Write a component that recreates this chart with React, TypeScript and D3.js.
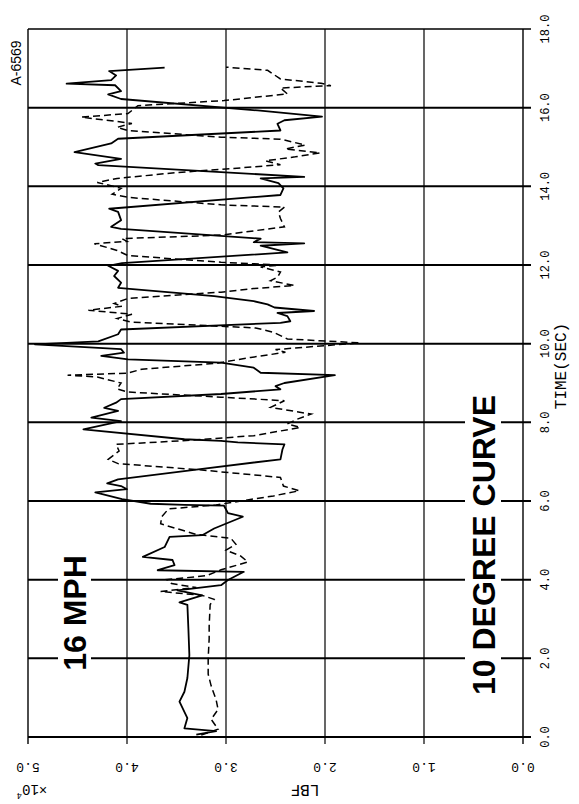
import React from 'react';
import * as d3 from 'd3';

// time (sec) , force (LBF x10^4)
const solidSeries: [number, number][] = [
  [0.06, 3.30], [0.15, 3.10], [0.22, 3.42], [0.48, 3.39], [0.9, 3.47], [1.15, 3.42], [1.5, 3.39],
  [2.08, 3.37], [2.76, 3.38], [3.36, 3.39], [3.42, 3.47], [3.6, 3.24], [3.73, 3.49], [3.86, 3.05],
  [3.99, 2.98], [4.2, 2.82], [4.24, 3.69], [4.37, 3.52], [4.5, 3.54], [4.58, 3.84], [4.83, 3.62],
  [5.09, 3.57], [5.13, 3.24], [5.3, 3.12], [5.6, 2.83], [5.69, 2.98], [5.88, 3.02], [5.9, 3.42],
  [5.93, 3.76], [6.05, 4.05], [6.22, 4.32], [6.3, 4.0], [6.38, 4.06], [6.45, 4.2], [6.55, 4.09],
  [6.8, 3.3], [7.06, 2.45], [7.31, 2.43], [7.44, 2.41], [7.49, 2.88], [7.53, 3.05], [7.57, 3.42],
  [7.82, 4.44], [8.03, 4.06], [8.12, 4.36], [8.29, 4.09], [8.37, 4.23], [8.5, 4.11], [8.59, 4.06],
  [8.72, 3.05], [8.84, 2.45], [8.92, 2.5], [9.0, 2.41], [9.2, 1.9], [9.26, 2.65], [9.39, 2.72],
  [9.52, 3.05], [9.6, 3.99], [9.69, 4.26], [9.77, 4.03], [9.86, 4.06], [9.98, 4.93], [10.06, 4.29],
  [10.24, 4.09], [10.36, 4.06], [10.53, 2.45], [10.57, 2.35], [10.7, 2.38], [10.78, 2.48],
  [10.83, 2.11], [10.92, 2.51], [11.0, 2.58], [11.08, 2.72], [11.21, 3.12], [11.42, 4.09],
  [11.55, 4.06], [11.72, 4.13], [11.85, 4.09], [11.98, 4.19], [12.05, 4.05], [12.32, 2.38],
  [12.49, 2.65], [12.55, 2.21], [12.58, 2.72], [12.67, 2.65], [12.92, 4.06], [12.97, 4.16],
  [13.14, 4.06], [13.35, 4.09], [13.43, 4.18], [13.78, 2.45], [13.95, 2.42], [14.08, 2.47],
  [14.2, 2.65], [14.24, 2.21], [14.54, 4.29], [14.58, 4.32], [14.7, 4.06], [14.87, 4.53],
  [15.09, 4.16], [15.21, 4.09], [15.42, 2.45], [15.59, 2.48], [15.68, 2.41], [15.77, 2.03],
  [15.93, 2.68], [16.22, 4.06], [16.34, 4.19], [16.42, 4.06], [16.57, 4.12], [16.61, 4.61],
  [16.7, 4.16], [16.82, 4.11], [16.93, 4.18], [17.02, 3.62],
];

const dashedSeries: [number, number][] = [
  [0.05, 3.25], [0.2, 3.08], [0.45, 3.15], [0.7, 3.08], [0.95, 3.1], [1.3, 3.15], [1.6, 3.18],
  [2.0, 3.18], [2.5, 3.17], [2.82, 3.17], [3.37, 3.16], [3.5, 3.12], [3.6, 3.24], [3.7, 3.66],
  [3.8, 3.3], [3.9, 3.55], [4.0, 3.6], [4.1, 3.2], [4.25, 3.05], [4.45, 2.78], [4.6, 2.85],
  [4.75, 3.0], [4.9, 2.9], [5.05, 2.95], [5.15, 3.3], [5.3, 3.5], [5.42, 3.66], [5.6, 3.65],
  [5.8, 3.58], [5.9, 3.1], [6.0, 2.85], [6.13, 2.52], [6.26, 2.26], [6.38, 2.42], [6.6, 2.45],
  [6.8, 3.3], [6.95, 4.09], [7.06, 4.19], [7.27, 4.08], [7.44, 4.11], [7.53, 3.45], [7.66, 2.72],
  [7.87, 2.25], [7.96, 2.38], [8.08, 2.28], [8.21, 2.14], [8.38, 2.55], [8.55, 2.41], [8.64, 3.05],
  [8.77, 3.99], [8.85, 4.1], [9.0, 4.06], [9.15, 4.3], [9.2, 4.6], [9.25, 4.0], [9.35, 3.85],
  [9.5, 3.1], [9.65, 2.75], [9.78, 2.4], [9.85, 2.5], [9.95, 2.0], [10.02, 1.65], [10.12, 2.38],
  [10.29, 2.52], [10.4, 2.7], [10.55, 3.96], [10.64, 4.1], [10.75, 3.95], [10.85, 4.39],
  [10.95, 4.05], [11.02, 4.13], [11.15, 3.99], [11.31, 3.05], [11.4, 2.72], [11.48, 2.31],
  [11.6, 2.55], [11.69, 2.48], [11.82, 2.45], [11.95, 2.65], [12.0, 2.45], [12.07, 3.05],
  [12.24, 3.99], [12.37, 4.1], [12.54, 4.33], [12.6, 4.0], [12.67, 4.05], [12.76, 3.05],
  [12.97, 2.41], [13.18, 2.45], [13.35, 2.47], [13.47, 2.41], [13.53, 3.05], [13.72, 3.99],
  [13.8, 4.15], [13.95, 4.06], [14.1, 4.3], [14.2, 4.1], [14.35, 3.5], [14.45, 2.95], [14.55, 2.45],
  [14.65, 2.6], [14.75, 2.3], [14.85, 2.05], [14.95, 2.4], [15.05, 2.2], [15.2, 2.45], [15.25, 3.05],
  [15.42, 3.99], [15.5, 4.1], [15.6, 3.95], [15.76, 4.46], [15.85, 3.99], [16.05, 3.89],
  [16.18, 3.02], [16.35, 2.38], [16.5, 2.45], [16.56, 1.94], [16.62, 2.04], [16.73, 2.45],
  [16.95, 2.58], [17.03, 3.0],
];

const timeTicks = [0, 2, 4, 6, 8, 10, 12, 14, 16, 18];
const timeTickLabels = ['0.0', '2.0', '4.0', '6.0', '8.0', '10.0', '12.0', '14.0', '16.0', '18.0'];
const lbfTicks = [0, 1, 2, 3, 4, 5];
const lbfTickLabels = ['0.0', '1.0', '2.0', '3.0', '4.0', '5.0'];

const W = 579;
const H = 804;
const PLOT = { left: 28, right: 523, top: 29, bottom: 737 };
const MONO = "'Liberation Mono', 'DejaVu Sans Mono', monospace";
const BOLD = "'Liberation Sans', Arial, sans-serif";

export default function App() {
  const y = d3.scaleLinear().domain([0, 18]).range([PLOT.bottom, PLOT.top]);
  const x = d3.scaleLinear().domain([0, 5]).range([PLOT.right, PLOT.left]);
  const line = d3
    .line<[number, number]>()
    .x((d) => x(d[1]))
    .y((d) => y(d[0]));

  return (
    <svg
      width={W}
      height={H}
      style={{ position: 'absolute', left: 0, top: 0, background: '#fff' }}
    >
      <rect x={0} y={0} width={W} height={H} fill="#fff" />
      {/* vertical grid (LBF) */}
      {lbfTicks.map((v) => (
        <line
          key={'v' + v}
          x1={x(v)}
          x2={x(v)}
          y1={PLOT.top}
          y2={PLOT.bottom + 7}
          stroke="#000"
          strokeWidth={v === 0 || v === 5 ? 1.4 : 1.2}
        />
      ))}
      {/* horizontal grid (time) */}
      {timeTicks.map((t) => (
        <line
          key={'h' + t}
          x1={PLOT.left}
          x2={PLOT.right + 8}
          y1={y(t)}
          y2={y(t)}
          stroke="#000"
          strokeWidth={t === 18 ? 1.4 : 2}
        />
      ))}
      {/* white boxes behind big labels */}
      <rect x={58} y={548} width={33} height={132} fill="#fff" />
      <rect x={465} y={393} width={36} height={306} fill="#fff" />

      {/* data */}
      <path d={line(dashedSeries) || ''} fill="none" stroke="#000" strokeWidth={1.5} strokeDasharray="7 4" />
      <path d={line(solidSeries) || ''} fill="none" stroke="#000" strokeWidth={1.8} strokeLinejoin="round" />

      {/* time tick labels */}
      {timeTicks.map((t, i) => (
        <text
          key={'tl' + t}
          transform={`translate(546, ${y(t)}) rotate(-90)`}
          textAnchor="middle"
          dominantBaseline="central"
          fontFamily={MONO}
          fontSize={12}
          fill="#000"
        >
          {timeTickLabels[i]}
        </text>
      ))}
      {/* LBF tick labels (upside down) */}
      {lbfTicks.map((v, i) => (
        <text
          key={'ll' + v}
          transform={`translate(${x(v)}, 766) rotate(180)`}
          textAnchor="middle"
          dominantBaseline="central"
          fontFamily={MONO}
          fontSize={13}
          fill="#000"
        >
          {lbfTickLabels[i]}
        </text>
      ))}
      <text
        transform="translate(305, 789) rotate(180)"
        textAnchor="middle"
        dominantBaseline="central"
        fontFamily={MONO}
        fontSize={16}
        fill="#000"
      >
        LBF
      </text>
      <text
        transform="translate(32, 789) rotate(180)"
        textAnchor="middle"
        dominantBaseline="central"
        fontFamily={MONO}
        fontSize={14}
        fill="#000"
      >
        ×10<tspan fontSize={9} dy={-6}>4</tspan>
      </text>
      <text
        transform="translate(562, 366) rotate(-90)"
        textAnchor="middle"
        dominantBaseline="central"
        fontFamily={MONO}
        fontSize={16}
        fill="#000"
      >
        TIME(SEC)
      </text>
      <text
        transform="translate(16, 63) rotate(-90)"
        textAnchor="middle"
        dominantBaseline="central"
        fontFamily={BOLD}
        fontSize={14}
        fill="#000"
      >
        A-6569
      </text>
      <text
        transform="translate(75, 613) rotate(-90)"
        textAnchor="middle"
        dominantBaseline="central"
        fontFamily={BOLD}
        fontWeight="bold"
        fontSize={32}
        fill="#000"
      >
        16 MPH
      </text>
      <text
        transform="translate(484, 545) rotate(-90)"
        textAnchor="middle"
        dominantBaseline="central"
        fontFamily={BOLD}
        fontWeight="bold"
        fontSize={32}
        fill="#000"
      >
        10 DEGREE CURVE
      </text>
    </svg>
  );
}
